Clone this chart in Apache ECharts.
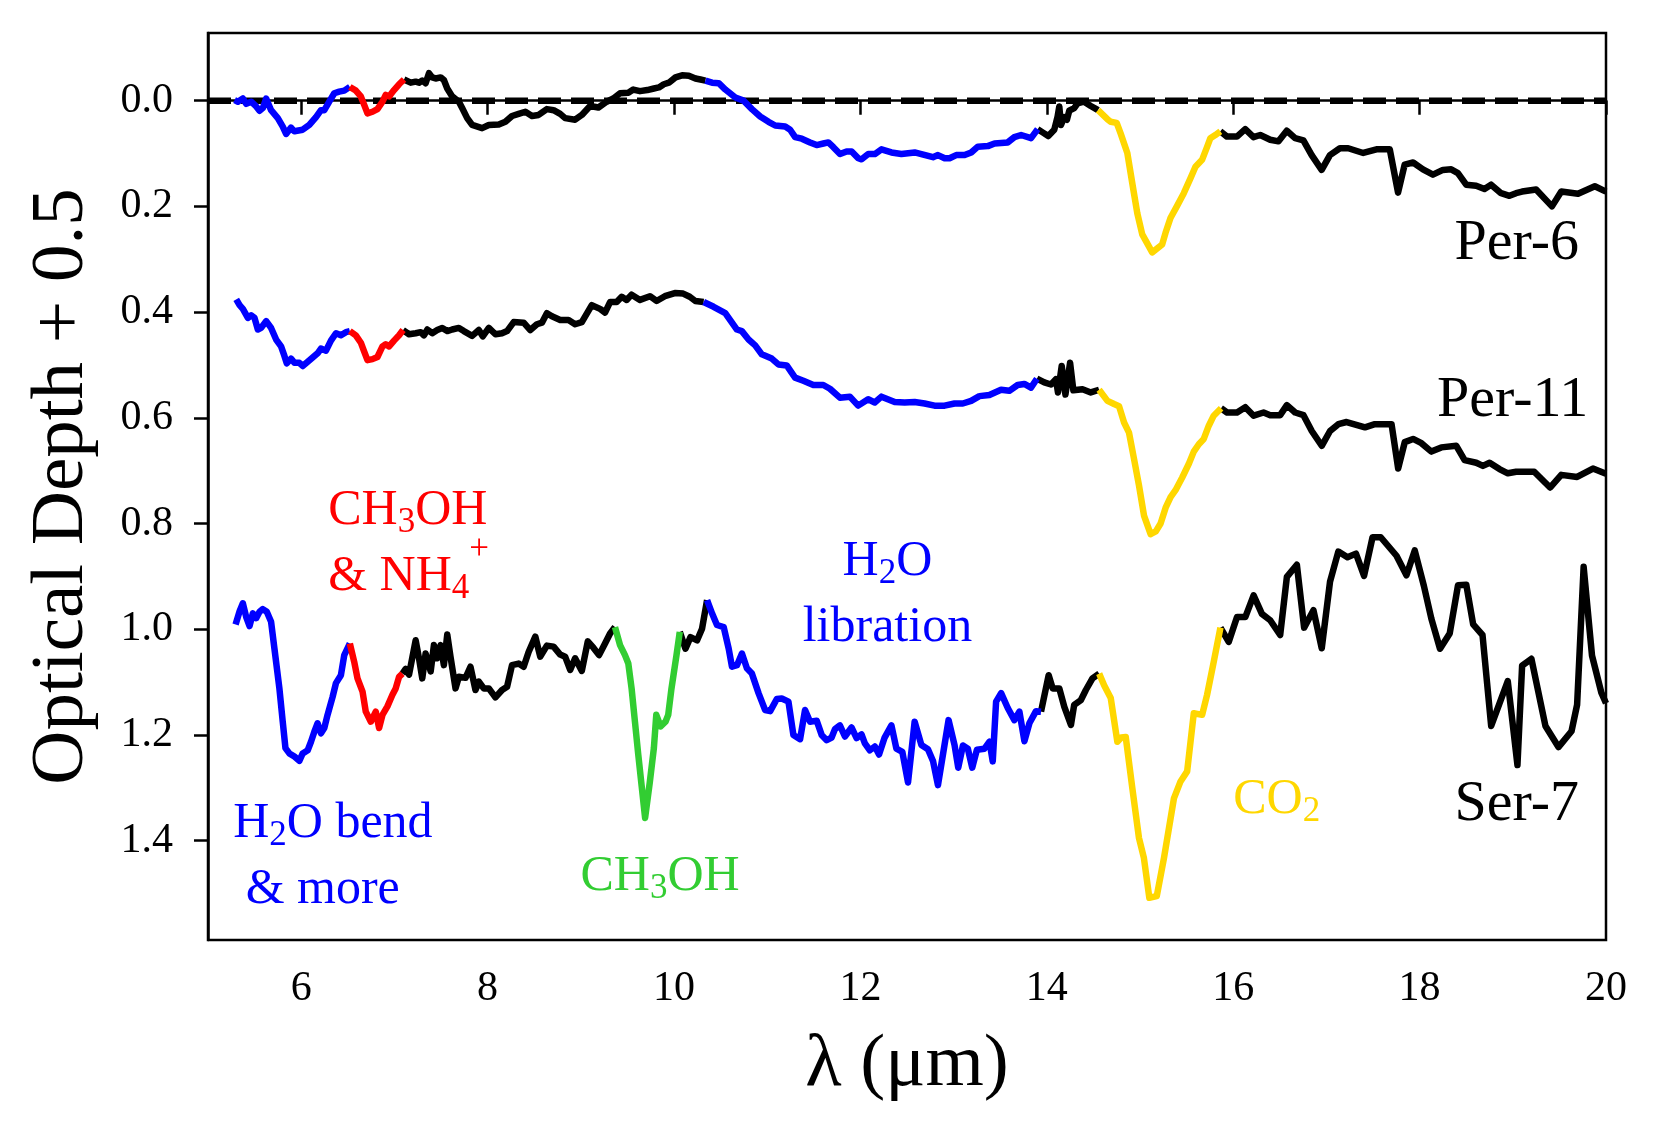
<!DOCTYPE html>
<html><head><meta charset="utf-8">
<script src="https://cdn.jsdelivr.net/npm/echarts@6/dist/echarts.min.js"></script>
<style>html,body{margin:0;padding:0;background:#fff}#c{width:1657px;height:1133px}</style>
</head><body><div id="c"></div>
<script>
// ---------------- data ----------------
const xTicks = [6, 8, 10, 12, 14, 16, 18, 20];
const yTicks = [0, 0.2, 0.4, 0.6, 0.8, 1.0, 1.2, 1.4];
const xRange = [5, 20];
const yRange = [-0.128, 1.588];
const zeroLevel = 0;

const per6 = [[5.285,-0.001],[5.321,0.002],[5.374,-0.004],[5.41,0.006],[5.463,0.002],[5.517,0.011],[5.553,0.019],[5.588,0.014],[5.624,-0.004],[5.677,0.018],[5.749,0.033],[5.802,0.049],[5.838,0.063],[5.891,0.051],[5.927,0.058],[6.016,0.055],[6.087,0.046],[6.159,0.031],[6.212,0.018],[6.248,0.018],[6.301,0.002],[6.355,-0.014],[6.408,-0.017],[6.462,-0.019],[6.522,-0.026],
[6.586,-0.019],[6.64,-0.008],[6.676,0.008],[6.711,0.024],[6.765,0.021],[6.818,0.016],[6.872,0.002],[6.907,-0.011],[6.943,-0.008],[6.996,-0.020],[7.05,-0.031],[7.103,-0.040],
[7.175,-0.034],[7.228,-0.036],[7.264,-0.034],[7.299,-0.038],[7.335,-0.033],[7.371,-0.052],[7.406,-0.044],[7.442,-0.042],[7.496,-0.044],[7.531,-0.039],[7.567,-0.023],[7.62,-0.008],[7.692,0.002],[7.727,0.014],[7.781,0.033],[7.834,0.046],[7.941,0.052],[8.013,0.046],[8.12,0.045],[8.191,0.040],[8.262,0.029],[8.333,0.025],[8.405,0.021],[8.476,0.029],[8.547,0.027],[8.636,0.016],[8.708,0.018],[8.779,0.025],[8.832,0.033],[8.939,0.036],[9.011,0.027],[9.1,0.010],[9.189,0.013],[9.278,0.002],[9.349,-0.004],[9.421,-0.014],[9.51,-0.015],[9.563,-0.021],[9.635,-0.018],[9.713,-0.020],[9.784,-0.023],[9.838,-0.025],[9.891,-0.031],[9.945,-0.034],[10.016,-0.044],[10.087,-0.048],[10.159,-0.047],[10.23,-0.042],[10.284,-0.040],[10.337,-0.038],
[10.408,-0.034],[10.48,-0.033],[10.551,-0.021],[10.658,-0.006],[10.747,0.0],[10.836,0.016],[10.925,0.030],[11.014,0.040],[11.086,0.047],[11.193,0.049],[11.246,0.055],[11.3,0.069],[11.371,0.072],[11.46,0.079],[11.531,0.084],[11.603,0.081],[11.656,0.079],[11.71,0.088],[11.781,0.101],[11.852,0.096],[11.906,0.096],[11.977,0.109],[12.013,0.111],[12.084,0.101],[12.155,0.101],[12.226,0.092],[12.333,0.098],[12.44,0.101],[12.583,0.098],[12.654,0.101],[12.779,0.107],[12.832,0.103],[12.904,0.109],[12.957,0.109],[13.028,0.103],[13.118,0.103],[13.189,0.098],[13.26,0.087],[13.367,0.086],[13.439,0.081],[13.581,0.079],[13.652,0.069],[13.724,0.065],[13.831,0.071],[13.902,0.054],
[13.955,0.060],[14.016,0.067],[14.08,0.055],[14.116,0.030],[14.134,0.011],[14.152,0.046],[14.187,0.031],[14.216,0.036],[14.241,0.019],[14.294,0.014],[14.33,0.005],[14.4,0.002],[14.472,0.010],[14.55,0.018],
[14.65,0.035],[14.685,0.040],[14.75,0.042],[14.792,0.062],[14.864,0.099],[14.917,0.156],[14.971,0.213],[15.024,0.253],[15.131,0.287],[15.238,0.272],[15.274,0.250],[15.327,0.222],[15.398,0.199],[15.47,0.175],[15.541,0.147],[15.595,0.125],[15.666,0.112],[15.719,0.088],[15.755,0.071],[15.808,0.065],[15.862,0.058],
[15.933,0.068],[16.04,0.068],[16.129,0.054],[16.218,0.069],[16.29,0.065],[16.397,0.074],[16.486,0.077],[16.575,0.057],[16.664,0.071],[16.753,0.075],[16.842,0.103],[16.949,0.131],[17.038,0.103],[17.145,0.090],[17.234,0.090],[17.395,0.099],[17.537,0.092],[17.68,0.092],[17.769,0.174],[17.84,0.121],[17.93,0.117],[18.036,0.130],[18.143,0.140],[18.25,0.131],[18.339,0.130],[18.411,0.137],[18.5,0.159],[18.607,0.161],[18.696,0.167],[18.767,0.159],[18.874,0.175],[18.964,0.180],[19.035,0.175],[19.1,0.172],[19.25,0.168],[19.42,0.200],[19.52,0.172],[19.7,0.176],[19.88,0.162],[20.0,0.172]];
const per6Bands = [[5.0,6.522,'bend'],[6.522,7.103,'nh4'],[10.337,13.902,'lib'],[14.55,15.862,'co2']];

const per11 = [[5.303,0.376],[5.339,0.387],[5.374,0.394],[5.428,0.411],[5.463,0.406],[5.499,0.411],[5.535,0.433],[5.57,0.430],[5.624,0.417],[5.677,0.430],[5.731,0.452],[5.784,0.465],[5.82,0.483],[5.845,0.497],[5.891,0.488],[5.927,0.496],[5.98,0.496],[6.016,0.502],[6.07,0.494],[6.123,0.486],[6.176,0.478],[6.212,0.469],[6.266,0.473],[6.319,0.454],[6.373,0.440],[6.426,0.444],[6.48,0.438],[6.522,0.436],
[6.586,0.444],[6.64,0.458],[6.676,0.475],[6.711,0.491],[6.765,0.489],[6.818,0.485],[6.872,0.465],[6.907,0.461],[6.943,0.465],[6.996,0.454],[7.05,0.444],[7.093,0.434],
[7.157,0.442],[7.228,0.440],[7.282,0.438],[7.317,0.444],[7.353,0.433],[7.406,0.440],[7.46,0.434],[7.513,0.430],[7.567,0.436],[7.62,0.433],[7.692,0.430],[7.745,0.436],[7.834,0.445],[7.906,0.434],[7.948,0.446],[8.013,0.430],[8.084,0.442],[8.155,0.440],[8.209,0.436],[8.28,0.419],[8.387,0.420],[8.458,0.434],[8.529,0.423],[8.583,0.420],[8.636,0.402],[8.69,0.408],[8.779,0.415],[8.868,0.415],[8.939,0.423],[9.011,0.419],[9.118,0.387],[9.207,0.394],[9.26,0.401],[9.314,0.381],[9.385,0.381],[9.439,0.371],[9.492,0.377],[9.545,0.367],[9.635,0.377],[9.742,0.370],[9.813,0.379],[9.902,0.370],[10.009,0.364],[10.098,0.365],[10.169,0.371],[10.229,0.379],[10.318,0.381],
[10.425,0.390],[10.55,0.402],[10.675,0.433],[10.728,0.436],[10.8,0.452],[10.871,0.463],[10.942,0.480],[11.049,0.488],[11.12,0.499],[11.209,0.501],[11.299,0.524],[11.388,0.530],[11.495,0.538],[11.602,0.538],[11.673,0.545],[11.78,0.562],[11.887,0.560],[11.976,0.577],[12.083,0.565],[12.154,0.571],[12.226,0.560],[12.368,0.570],[12.475,0.571],[12.582,0.570],[12.689,0.573],[12.796,0.577],[12.903,0.577],[13.01,0.573],[13.099,0.573],[13.188,0.568],[13.277,0.559],[13.384,0.557],[13.509,0.547],[13.598,0.549],[13.687,0.538],[13.759,0.536],[13.83,0.543],[13.894,0.526],
[13.973,0.533],[14.045,0.537],[14.098,0.527],[14.12,0.552],[14.16,0.502],[14.2,0.556],[14.25,0.496],[14.285,0.548],[14.383,0.546],[14.472,0.552],[14.561,0.547],
[14.651,0.568],[14.722,0.574],[14.775,0.578],[14.829,0.609],[14.882,0.628],[14.936,0.678],[14.989,0.728],[15.043,0.785],[15.114,0.820],[15.17,0.815],[15.221,0.800],[15.275,0.770],[15.328,0.750],[15.381,0.737],[15.453,0.713],[15.524,0.687],[15.577,0.664],[15.631,0.650],[15.684,0.640],[15.738,0.615],[15.791,0.596],[15.87,0.582],
[15.934,0.590],[16.041,0.590],[16.13,0.580],[16.219,0.596],[16.326,0.590],[16.397,0.595],[16.504,0.595],[16.576,0.576],[16.665,0.590],[16.754,0.595],[16.843,0.625],[16.95,0.653],[17.039,0.625],[17.128,0.612],[17.217,0.608],[17.414,0.618],[17.52,0.612],[17.645,0.612],[17.699,0.612],[17.77,0.696],[17.841,0.646],[17.93,0.640],[18.02,0.648],[18.126,0.664],[18.233,0.656],[18.394,0.653],[18.483,0.680],[18.608,0.685],[18.679,0.691],[18.751,0.685],[18.857,0.697],[18.947,0.705],[19.036,0.702],[19.23,0.702],[19.4,0.732],[19.52,0.708],[19.69,0.712],[19.86,0.696],[20.0,0.706]];
const per11Bands = [[5.0,6.522,'bend'],[6.522,7.093,'nh4'],[10.318,13.894,'lib'],[14.561,15.87,'co2']];

const ser7 = [[5.296,0.991],[5.339,0.966],[5.374,0.951],[5.41,0.977],[5.446,0.994],[5.481,0.970],[5.517,0.979],[5.553,0.967],[5.588,0.962],[5.631,0.967],[5.677,0.986],[5.713,1.037],[5.766,1.112],[5.802,1.175],[5.831,1.225],[5.873,1.235],[5.927,1.241],[5.98,1.249],[6.016,1.235],[6.07,1.229],[6.105,1.213],[6.141,1.194],[6.176,1.178],[6.212,1.197],[6.248,1.187],[6.283,1.162],[6.337,1.128],[6.373,1.102],[6.426,1.087],[6.462,1.049],[6.522,1.027],
[6.569,1.062],[6.604,1.093],[6.658,1.118],[6.693,1.156],[6.747,1.175],[6.8,1.156],[6.836,1.187],[6.872,1.162],[6.925,1.146],[6.979,1.124],[7.014,1.112],[7.05,1.090],[7.086,1.084],
[7.121,1.075],[7.157,1.086],[7.228,1.021],[7.264,1.055],[7.299,1.093],[7.335,1.046],[7.389,1.080],[7.424,1.030],[7.46,1.055],[7.496,1.030],[7.531,1.068],[7.567,1.010],[7.602,1.052],[7.656,1.112],[7.692,1.090],[7.763,1.092],[7.816,1.071],[7.87,1.115],[7.906,1.099],[7.959,1.112],[8.013,1.112],[8.084,1.129],[8.155,1.115],[8.209,1.109],[8.262,1.068],[8.333,1.065],[8.387,1.071],[8.44,1.043],[8.512,1.014],[8.565,1.052],[8.636,1.031],[8.708,1.033],[8.779,1.048],[8.832,1.052],[8.886,1.077],[8.939,1.055],[9.011,1.079],[9.075,1.023],[9.135,1.035],[9.196,1.049],[9.26,1.027],[9.314,1.008],[9.367,0.996],
[9.421,1.030],[9.474,1.049],[9.51,1.065],[9.545,1.112],[9.581,1.175],[9.617,1.238],[9.652,1.295],[9.69,1.357],[9.74,1.290],[9.784,1.225],[9.81,1.162],[9.856,1.184],[9.909,1.175],[9.938,1.162],[9.973,1.112],[10.027,1.049],[10.062,1.005],
[10.123,1.037],[10.177,1.015],[10.248,1.021],[10.301,0.999],[10.355,0.945],
[10.408,0.970],[10.461,0.992],[10.533,0.996],[10.587,1.037],[10.622,1.071],[10.676,1.068],[10.729,1.046],[10.782,1.074],[10.836,1.084],[10.907,1.121],[10.978,1.153],[11.032,1.155],[11.103,1.132],[11.156,1.131],[11.228,1.137],[11.281,1.200],[11.353,1.208],[11.406,1.153],[11.46,1.175],[11.531,1.173],[11.584,1.200],[11.638,1.210],[11.691,1.205],[11.727,1.189],[11.78,1.182],[11.834,1.203],[11.905,1.186],[11.959,1.206],[12.012,1.199],[12.048,1.216],[12.101,1.229],[12.155,1.222],[12.2,1.237],[12.26,1.205],[12.333,1.182],[12.386,1.226],[12.45,1.232],[12.511,1.290],[12.582,1.175],[12.654,1.219],[12.725,1.227],[12.78,1.250],[12.832,1.295],[12.946,1.172],[13.01,1.219],[13.05,1.262],[13.1,1.220],[13.153,1.226],[13.2,1.262],[13.25,1.228],[13.331,1.226],[13.385,1.213],[13.42,1.250],[13.456,1.137],[13.51,1.121],[13.581,1.149],[13.652,1.172],[13.706,1.156],[13.76,1.212],[13.813,1.178],[13.884,1.155],[13.938,1.156],
[14.02,1.087],[14.063,1.112],[14.134,1.112],[14.188,1.147],[14.259,1.181],[14.294,1.143],[14.366,1.134],[14.419,1.115],[14.49,1.093],[14.562,1.084],
[14.615,1.106],[14.686,1.130],[14.757,1.213],[14.8,1.205],[14.847,1.204],[14.918,1.301],[14.989,1.395],[15.042,1.433],[15.1,1.508],[15.18,1.505],[15.257,1.433],[15.364,1.320],[15.435,1.288],[15.506,1.269],[15.577,1.159],[15.667,1.162],[15.72,1.124],[15.791,1.062],[15.863,0.997],
[15.952,1.024],[16.041,0.977],[16.13,0.977],[16.219,0.936],[16.308,0.971],[16.397,0.983],[16.504,1.011],[16.576,0.901],[16.683,0.878],[16.761,0.997],[16.861,0.964],[16.95,1.036],[17.039,0.910],[17.128,0.853],[17.226,0.864],[17.317,0.857],[17.404,0.899],[17.495,0.826],[17.583,0.826],[17.752,0.861],[17.859,0.898],[17.948,0.851],[18.046,0.918],[18.126,0.980],[18.219,1.037],[18.323,1.008],[18.412,0.917],[18.501,0.916],[18.575,0.991],[18.675,1.011],[18.768,1.183],[18.946,1.098],[19.05,1.257],[19.1,1.069],[19.2,1.056],[19.35,1.183],[19.49,1.223],[19.63,1.193],[19.69,1.143],[19.76,0.882],[19.85,1.050],[19.95,1.120],[20.0,1.140]];
const ser7Bands = [[5.0,6.522,'bend'],[6.522,7.086,'nh4'],[9.367,10.062,'ch3oh'],[10.355,13.938,'lib'],[14.562,15.863,'co2']];

const sourceNames = ['Per-6', 'Per-11', 'Ser-7'];
const xTitle = 'λ (μm)';
const yTitle = 'Optical Depth + 0.5';

// ---------------- styles ----------------
const FONT = "'Liberation Serif','Times New Roman',serif";
const bandColor = {none:'#000000', bend:'#0000ff', nh4:'#ff0000', ch3oh:'#32cd32', lib:'#0000ff', co2:'#ffd700'};
const LW = 6.5;

function runs(points, bands) {
  const out = []; let cur = null;
  for (let i = 0; i < points.length - 1; i++) {
    const m = (points[i][0] + points[i + 1][0]) / 2;
    let lab = 'none';
    for (const b of bands) { if (m >= b[0] && m <= b[1]) { lab = b[2]; break; } }
    if (!cur || cur.lab !== lab) { cur = {lab, pts: [points[i]]}; out.push(cur); }
    cur.pts.push(points[i + 1]);
  }
  return out;
}

const series = [];
series.push({
  type: 'line', data: [[xRange[0], zeroLevel], [xRange[1], zeroLevel]], symbol: 'none', silent: true, z: 1,
  lineStyle: {color: '#000', width: 6.5, type: [23, 10], cap: 'butt'}
});
[[per6, per6Bands], [per11, per11Bands], [ser7, ser7Bands]].forEach(([pts, bands]) => {
  runs(pts, bands).forEach(r => {
    series.push({
      type: 'line', data: r.pts, symbol: 'none', silent: true, z: r.lab === 'none' ? 2 : 3,
      lineStyle: {color: bandColor[r.lab], width: LW, join: 'round', cap: 'butt'}
    });
  });
});

function richFor(color, size) {
  const s = Math.round(size * 0.7);
  return {
    n: {fontFamily: FONT, fontSize: size, color, lineHeight: 66},
    s: {fontFamily: FONT, fontSize: s, color, lineHeight: 66, padding: [24, 0, 0, 0]},
    p: {fontFamily: FONT, fontSize: s, color, lineHeight: 66, padding: [0, 0, 54, 0]}
  };
}
function annot(x, y, text, color, align, size) {
  series.push({
    type: 'scatter', data: [[x, y]], symbolSize: 0, silent: true, z: 5,
    itemStyle: {opacity: 1},
    label: {show: true, position: [0, 0], align, verticalAlign: 'middle', formatter: text,
      color, fontFamily: FONT, fontSize: size, rich: richFor(color, size)}
  });
}
annot(6.29, 0.838, '{n|CH}{s|3}{n|OH}\n{n|& NH}{s|4}{p|+}', '#ff0000', 'left', 50);
annot(12.29, 0.935, '{n|H}{s|2}{n|O}\n{n|libration}', '#0000ff', 'center', 50);
annot(5.27, 1.431, '{n|H}{s|2}{n|O bend}\n{n| & more}', '#0000ff', 'left', 50);
annot(9.85, 1.469, '{n|CH}{s|3}{n|OH}', '#32cd32', 'center', 50);
annot(16.0, 1.323, '{n|CO}{s|2}', '#ffd700', 'left', 50);
annot(19.71, 0.271, '{n|' + sourceNames[0] + '}', '#000000', 'right', 58);
annot(19.81, 0.567, '{n|' + sourceNames[1] + '}', '#000000', 'right', 58);
annot(19.71, 1.333, '{n|' + sourceNames[2] + '}', '#000000', 'right', 58);

const chart = echarts.init(document.getElementById('c'), null, {renderer: 'canvas'});
chart.setOption({
  animation: false,
  backgroundColor: '#fff',
  grid: {left: 208, right: 51, top: 33, bottom: 193, show: true, borderColor: '#000', borderWidth: 2.5, backgroundColor: 'transparent'},
  xAxis: {
    type: 'value', min: xRange[0], max: xRange[1],
    name: xTitle, nameLocation: 'middle', nameGap: 88,
    nameTextStyle: {fontFamily: FONT, fontSize: 75, color: '#000'},
    axisLine: {show: true, lineStyle: {color: '#000', width: 2.5}},
    axisTick: {show: true, inside: false, length: 14, lineStyle: {color: '#000', width: 2.5}, customValues: xTicks},
    axisLabel: {show: true, margin: 28, fontFamily: FONT, fontSize: 42, color: '#000', customValues: xTicks,
      formatter: v => String(Math.round(v))},
    splitLine: {show: false}
  },
  yAxis: {
    type: 'value', inverse: true, min: yRange[0], max: yRange[1],
    name: yTitle, nameLocation: 'middle', nameGap: 108,
    nameTextStyle: {fontFamily: FONT, fontSize: 75, color: '#000'},
    axisLine: {show: true, lineStyle: {color: '#000', width: 2.5}},
    axisTick: {show: true, inside: false, length: 14, lineStyle: {color: '#000', width: 2.5}, customValues: yTicks},
    axisLabel: {show: true, margin: 35, fontFamily: FONT, fontSize: 42, color: '#000', customValues: yTicks,
      formatter: v => (Math.round(v * 10) / 10).toFixed(1)},
    splitLine: {show: false}
  },
  series
});
</script>
</body></html>
